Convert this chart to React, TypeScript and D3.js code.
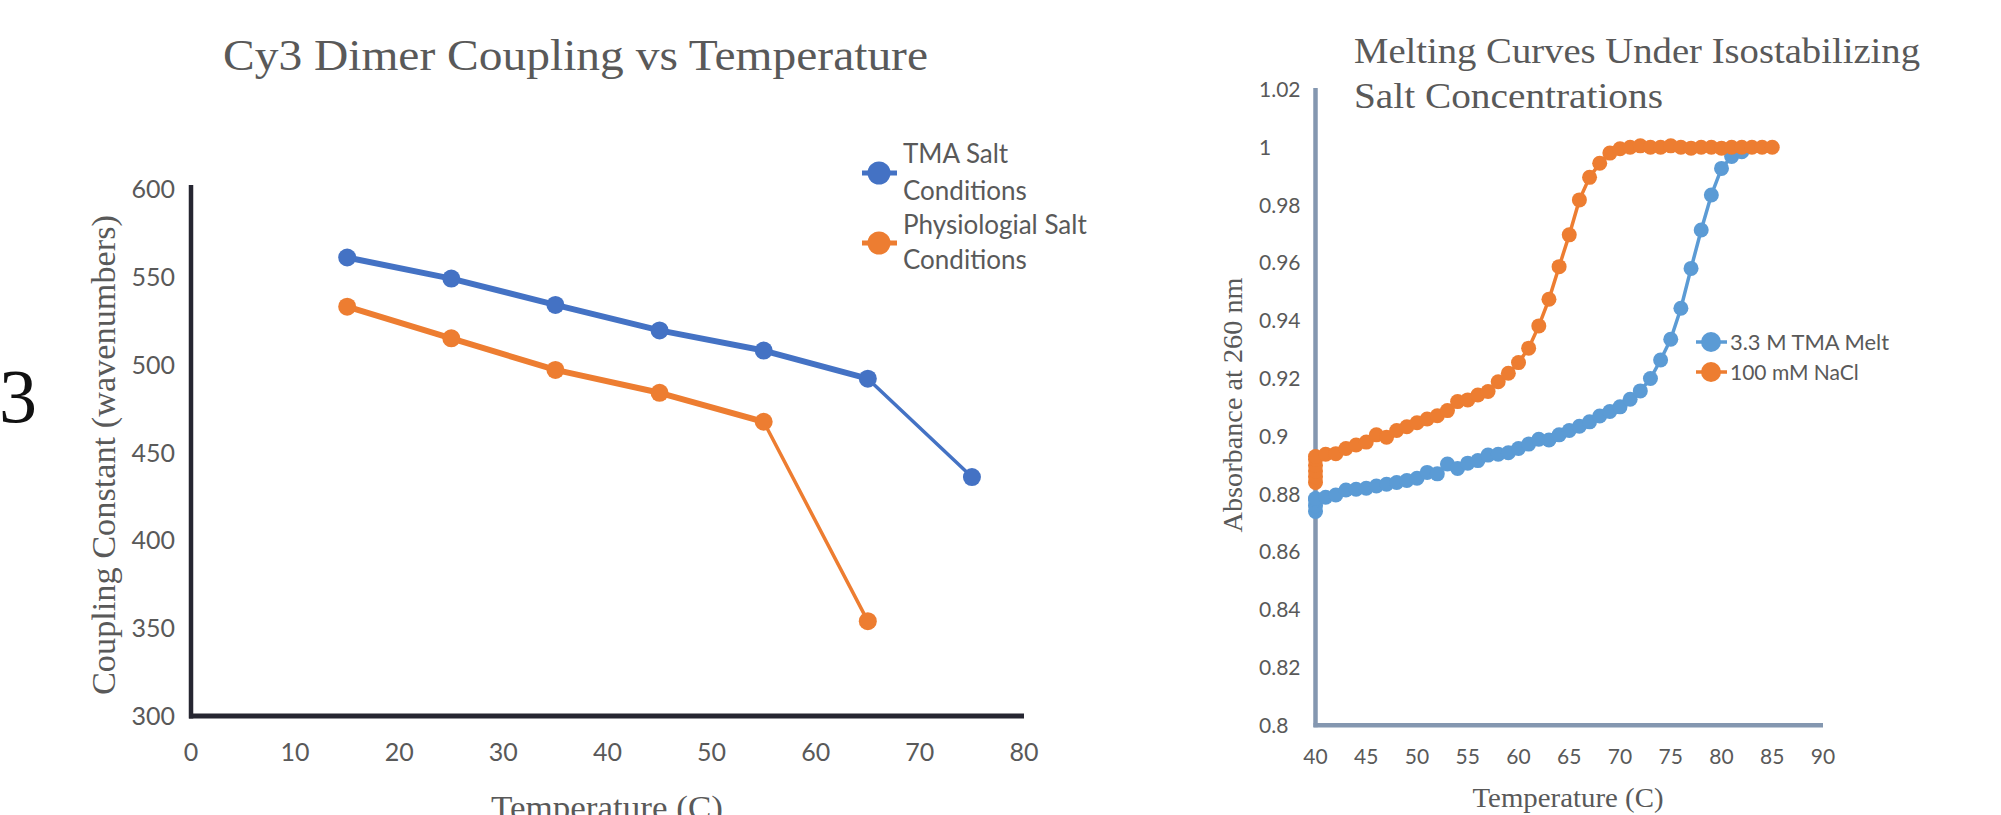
import React from 'react';
import * as d3 from 'd3';

// ---------- Left chart data ----------
const tmaTemps = [15, 25, 35, 45, 55, 65, 75];
const tmaCoupling = [561, 549, 534, 519.5, 508, 492, 436];
const physTemps = [15, 25, 35, 45, 55, 65];
const physCoupling = [533, 515, 497, 484, 467.5, 354];
const leftXTicks = [0, 10, 20, 30, 40, 50, 60, 70, 80];
const leftYTicks = [300, 350, 400, 450, 500, 550, 600];

// ---------- Right chart data ----------
const naclTemps = [40, 40, 40, 40, 40, 40, 41, 42, 43, 44, 45, 46, 47, 48, 49, 50, 51, 52, 53, 54, 55, 56, 57, 58, 59, 60, 61, 62, 63, 64, 65, 66, 67, 68, 69, 70, 71, 72, 73, 74, 75, 76, 77, 78, 79, 80, 81, 82, 83, 84, 85];
const naclAbs = [0.884, 0.886, 0.888, 0.89, 0.892, 0.893, 0.8938, 0.894, 0.8958, 0.897, 0.898, 0.9005, 0.8997, 0.902, 0.9033, 0.9047, 0.906, 0.9071, 0.9089, 0.912, 0.9126, 0.9143, 0.9155, 0.9189, 0.9218, 0.9255, 0.9305, 0.9382, 0.9474, 0.9587, 0.9697, 0.9818, 0.9896, 0.9945, 0.998, 0.9995, 1.0, 1.0005, 1.0, 1.0, 1.0005, 1.0, 0.9997, 1.0, 1.0, 0.9997, 1.0, 1.0, 1.0, 1.0, 1.0];
const tmaMeltTemps = [40, 40, 40, 40, 41, 42, 43, 44, 45, 46, 47, 48, 49, 50, 51, 52, 53, 54, 55, 56, 57, 58, 59, 60, 61, 62, 63, 64, 65, 66, 67, 68, 69, 70, 71, 72, 73, 74, 75, 76, 77, 78, 79, 80, 81, 82];
const tmaMeltAbs = [0.874, 0.876, 0.878, 0.8785, 0.8789, 0.8797, 0.8814, 0.8817, 0.882, 0.8828, 0.8834, 0.884, 0.8847, 0.8855, 0.8875, 0.887, 0.8904, 0.8889, 0.8907, 0.8916, 0.8935, 0.8938, 0.8943, 0.8958, 0.8973, 0.899, 0.8987, 0.9005, 0.902, 0.9035, 0.905, 0.907, 0.9086, 0.9102, 0.9128, 0.9157, 0.92, 0.9264, 0.9336, 0.9443, 0.9581, 0.9714, 0.9835, 0.9927, 0.9968, 0.9985];
const rightXTicks = [40, 45, 50, 55, 60, 65, 70, 75, 80, 85, 90];
const rightYTicks = [0.8, 0.82, 0.84, 0.86, 0.88, 0.9, 0.92, 0.94, 0.96, 0.98, 1, 1.02];

const BLUE_L = '#4472C4';
const BLUE_R = '#5B9BD5';
const ORANGE = '#ED7D31';
const GRAY = '#595959';
const SERIF = '"Liberation Serif", "Times New Roman", serif';
const SANS = 'Lato, "Open Sans", sans-serif';

export default function App() {
  // Left scales
  const lx = d3.scaleLinear().domain([0, 80]).range([191, 1024]);
  const ly = d3.scaleLinear().domain([300, 600]).range([716, 189]);
  // Right scales
  const rx = d3.scaleLinear().domain([40, 90]).range([1315.5, 1823]);
  const ry = d3.scaleLinear().domain([0.8, 1.02]).range([725.3, 89.5]);

  const leftSeries = [
    { temps: tmaTemps, vals: tmaCoupling, color: BLUE_L },
    { temps: physTemps, vals: physCoupling, color: ORANGE },
  ];
  const rightSeries = [
    { temps: tmaMeltTemps, vals: tmaMeltAbs, color: BLUE_R },
    { temps: naclTemps, vals: naclAbs, color: ORANGE },
  ];
  const rLine = d3
    .line<[number, number]>()
    .x((d) => rx(d[0]))
    .y((d) => ry(d[1]));

  const fmtR = (v: number) => String(+v.toFixed(2));

  return (
    <svg
      width={2001}
      height={815}
      style={{ position: 'absolute', left: 0, top: 0, background: '#fff' }}
    >
      <rect x={0} y={0} width={2001} height={815} fill="#fff" />
      {/* stray "3" at far left */}
      <text x={-1} y={422} fontFamily={SERIF} fontSize={76} fill="#111">
        3
      </text>

      {/* ================= LEFT CHART ================= */}
      <text x={223} y={70} fontFamily={SERIF} fontSize={45} fill={GRAY} textLength={705} lengthAdjust="spacingAndGlyphs">
        Cy3 Dimer Coupling vs Temperature
      </text>
      {/* y tick labels */}
      {leftYTicks.map((t) => (
        <text key={'ly' + t} x={175} y={ly(t) + 9} textAnchor="end" fontFamily={SANS} fontSize={25} fill={GRAY}>
          {t}
        </text>
      ))}
      {/* x tick labels */}
      {leftXTicks.map((t) => (
        <text key={'lx' + t} x={lx(t)} y={761} textAnchor="middle" fontFamily={SANS} fontSize={25} fill={GRAY}>
          {t}
        </text>
      ))}
      {/* axes */}
      <line x1={lx(0)} x2={lx(0)} y1={185} y2={ly(300) + 2.5} stroke="#262631" strokeWidth={4.5} />
      <line x1={lx(0) - 2} x2={lx(80)} y1={ly(300)} y2={ly(300)} stroke="#262631" strokeWidth={5} />
      {/* axis titles */}
      <g transform={`translate(115, 455) rotate(-90)`}>
        <text x={0} y={0} textAnchor="middle" fontFamily={SERIF} fontSize={33} fill={GRAY} textLength={480} lengthAdjust="spacingAndGlyphs">
          Coupling Constant (wavenumbers)
        </text>
      </g>
      <text x={607} y={819} textAnchor="middle" fontFamily={SERIF} fontSize={33} fill={GRAY} textLength={232} lengthAdjust="spacingAndGlyphs">
        Temperature (C)
      </text>
      {/* series */}
      {leftSeries.map((s, si) => (
        <g key={'ls' + si}>
          {s.temps.slice(1).map((t, i) => (
            <line
              key={i}
              x1={lx(s.temps[i])}
              y1={ly(s.vals[i])}
              x2={lx(t)}
              y2={ly(s.vals[i + 1])}
              stroke={s.color}
              strokeWidth={i === s.temps.length - 2 ? 3.5 : 6}
              strokeLinecap="round"
            />
          ))}
          {s.temps.map((t, i) => (
            <circle key={'c' + i} cx={lx(t)} cy={ly(s.vals[i])} r={9} fill={s.color} />
          ))}
        </g>
      ))}
      {/* legend */}
      <line x1={862} x2={897} y1={173} y2={173} stroke={BLUE_L} strokeWidth={5} />
      <circle cx={879} cy={173} r={11.5} fill={BLUE_L} />
      <line x1={862} x2={897} y1={243} y2={243} stroke={ORANGE} strokeWidth={5} />
      <circle cx={879} cy={243} r={11.5} fill={ORANGE} />
      <text x={903} y={163} fontFamily={SANS} fontSize={26} fill={GRAY}>TMA Salt</text>
      <text x={903} y={200} fontFamily={SANS} fontSize={26} fill={GRAY}>Conditions</text>
      <text x={903} y={234} fontFamily={SANS} fontSize={26} fill={GRAY}>Physiologial Salt</text>
      <text x={903} y={269} fontFamily={SANS} fontSize={26} fill={GRAY}>Conditions</text>

      {/* ================= RIGHT CHART ================= */}
      <text x={1354} y={63} fontFamily={SERIF} fontSize={36} fill={GRAY} textLength={566} lengthAdjust="spacingAndGlyphs">
        Melting Curves Under Isostabilizing
      </text>
      <text x={1354} y={108} fontFamily={SERIF} fontSize={36} fill={GRAY} textLength={309} lengthAdjust="spacingAndGlyphs">
        Salt Concentrations
      </text>
      {rightYTicks.map((t) => (
        <text key={'ry' + t} x={1259} y={ry(t) + 7.5} fontFamily={SANS} fontSize={21} fill={GRAY}>
          {fmtR(t)}
        </text>
      ))}
      {rightXTicks.map((t) => (
        <text key={'rx' + t} x={rx(t)} y={764} textAnchor="middle" fontFamily={SANS} fontSize={21} fill={GRAY}>
          {t}
        </text>
      ))}
      <line x1={rx(40)} x2={rx(40)} y1={88} y2={ry(0.8) + 2} stroke="#8497B0" strokeWidth={4.5} />
      <line x1={rx(40) - 2} x2={rx(90)} y1={ry(0.8)} y2={ry(0.8)} stroke="#8497B0" strokeWidth={4.5} />
      <g transform={`translate(1242, 405) rotate(-90)`}>
        <text x={0} y={0} textAnchor="middle" fontFamily={SERIF} fontSize={28} fill={GRAY} textLength={255} lengthAdjust="spacingAndGlyphs">
          Absorbance at 260 nm
        </text>
      </g>
      <text x={1568} y={807} textAnchor="middle" fontFamily={SERIF} fontSize={28} fill={GRAY} textLength={191} lengthAdjust="spacingAndGlyphs">
        Temperature (C)
      </text>
      {rightSeries.map((s, si) => {
        const pts = s.temps.map((t, i) => [t, s.vals[i]] as [number, number]);
        return (
          <g key={'rs' + si}>
            <path d={rLine(pts) || ''} fill="none" stroke={s.color} strokeWidth={3.5} />
            {pts.map((p, i) => (
              <circle key={i} cx={rx(p[0])} cy={ry(p[1])} r={7.5} fill={s.color} />
            ))}
          </g>
        );
      })}
      {/* legend */}
      <line x1={1696} x2={1727} y1={342} y2={342} stroke={BLUE_R} strokeWidth={3.5} />
      <circle cx={1711} cy={342} r={10} fill={BLUE_R} />
      <line x1={1696} x2={1727} y1={372} y2={372} stroke={ORANGE} strokeWidth={3.5} />
      <circle cx={1711} cy={372} r={10} fill={ORANGE} />
      <text x={1730} y={350} fontFamily={SANS} fontSize={21} fill={GRAY} textLength={159} lengthAdjust="spacingAndGlyphs">3.3 M TMA Melt</text>
      <text x={1730} y={380} fontFamily={SANS} fontSize={21} fill={GRAY}>100 mM NaCl</text>
    </svg>
  );
}
